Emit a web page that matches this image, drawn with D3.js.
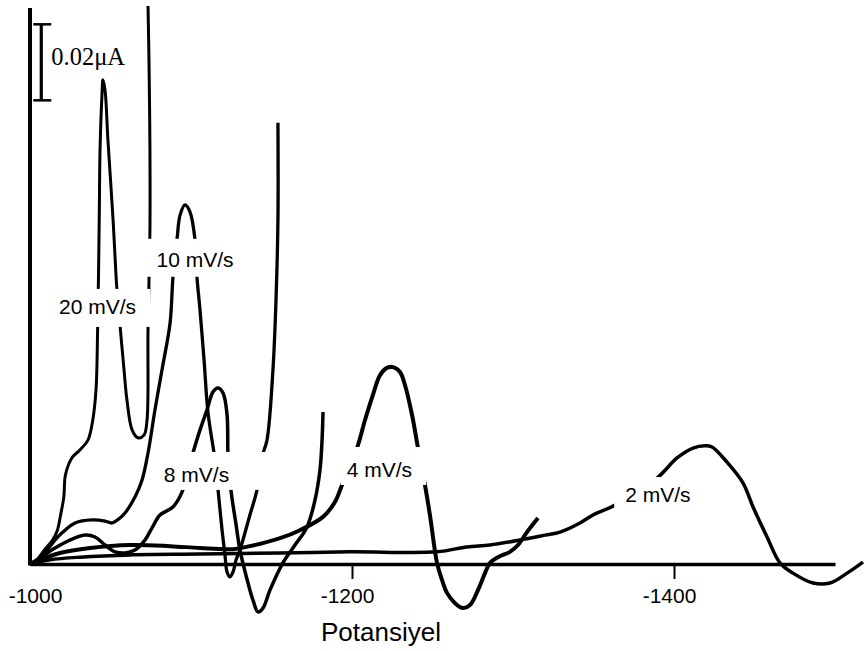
<!DOCTYPE html>
<html>
<head>
<meta charset="utf-8">
<script src="https://cdn.jsdelivr.net/npm/d3@7"></script>
<style>
  body { margin: 0; background: #fff; }
  svg { display: block; }
</style>
</head>
<body>
<div id="viz"></div>
<script>
// potential in mV, current in nA
var scanRates = ["20 mV/s", "10 mV/s", "8 mV/s", "4 mV/s", "2 mV/s"];

var potential20 = [-1000,-1003,-1009,-1014,-1017,-1019,-1021,-1022,-1026,-1031,-1036,-1039,-1041,-1042,-1043,-1043.5,-1044.7,-1045.3,-1046.6,-1048.4,-1051.6,-1054,-1056,-1058.4,-1060.2,-1063.4,-1067.1,-1070.8,-1072.7,-1073.3,-1074.5,-1074.5,-1073.9,-1073.3];
var current20 = [0,0.5,3.7,6.3,8.9,12.9,17.6,23.4,27.9,30.0,32.6,37.9,45.8,61.6,90.5,108.9,123.4,127.4,124.7,111.6,90.5,72.1,62.4,51.1,43.2,35.3,33.2,33.9,37.9,61.6,87.9,108.9,132.6,146.8];

var potential10 = [-1000,-1003.1,-1009.3,-1015.5,-1019.9,-1028,-1038.5,-1046.6,-1050.9,-1055.9,-1059,-1065.2,-1069.6,-1073.3,-1077.6,-1082,-1087,-1088.8,-1091.3,-1093.2,-1096.3,-1099.4,-1102.5,-1103.7,-1105.6,-1108.1,-1110.6,-1114.9,-1116.8,-1119.3,-1121.1,-1122.4,-1124.2,-1126.1,-1128,-1130.4,-1136.6,-1141,-1144.1,-1147.2,-1150.9,-1152.8,-1154,-1154];
var current10 = [0,0.5,2.9,6.3,8.2,10.8,11.6,11.3,10.8,12.1,13.4,17.6,22.1,29.2,40.5,51.1,63.4,75.5,85.3,91.8,94.5,92.6,85.3,75.5,66.8,53.7,39.7,27.4,19.5,8.9,2.4,-2.1,-3.4,-2.1,1.1,3.7,12.9,19.5,28.2,32.6,51.1,69.5,90.5,116.1];

var potential8 = [-1000,-1006.2,-1015.5,-1024.8,-1034.2,-1040.4,-1046.6,-1052.8,-1059,-1065.2,-1071.4,-1075.8,-1080.7,-1088.8,-1094.4,-1101.2,-1105.6,-1109.9,-1113.7,-1116.8,-1119.9,-1122.4,-1123,-1124.8,-1128,-1130.4,-1135.4,-1138.5,-1141.6,-1144.7,-1149.1,-1157.1,-1164.6,-1172,-1177,-1180.1,-1181.4,-1182];
var current8 = [0,1.6,4.2,6.3,7.6,7.1,5.0,3.2,2.9,3.7,6.3,9.5,12.9,15.0,18.9,29.2,35.3,40.5,45.3,46.3,45.0,39.2,28.7,19.5,10.3,3.7,-5.0,-9.5,-12.6,-11.6,-6.8,0.3,5.0,9.7,16.8,24.7,32.6,40.0];

var potential4 = [-1000,-1006.2,-1018.6,-1037.3,-1062.1,-1087,-1105.6,-1126.1,-1136.6,-1155.3,-1167.7,-1182,-1189.4,-1193.8,-1203.1,-1208.1,-1213,-1217.4,-1221.7,-1225.5,-1229.8,-1232.9,-1237.3,-1241,-1245.3,-1248.4,-1252.8,-1255.9,-1259,-1264,-1268.9,-1273.3,-1278.3,-1282.6,-1285.7,-1290.7,-1298.1,-1303.1,-1308.7,-1315.5];
var current4 = [0,1.1,2.9,4.2,5.0,4.7,4.2,3.9,4.7,6.8,8.9,12.4,16.3,20.8,30.5,37.9,44.5,49.7,51.6,51.8,50.5,47.1,39.2,30.5,20.8,12.9,0.3,-4.2,-7.6,-10.3,-11.6,-10.8,-6.8,-2.4,0.3,1.8,3.2,5.0,8.4,12.1];

var potential2 = [-1000,-1012.4,-1031.1,-1062.1,-1105.6,-1155.3,-1198.8,-1252.8,-1271.4,-1285.7,-1304.3,-1319.9,-1329.2,-1341.6,-1349.7,-1363.4,-1389.4,-1401.9,-1411.8,-1419.3,-1423.6,-1432.9,-1442.9,-1449.1,-1457.8,-1465.8,-1473.9,-1486.3,-1496.9,-1507.5,-1517.4];
var current2 = [0,1.1,1.8,2.4,2.6,2.9,3.2,3.2,4.5,5.0,6.3,7.6,8.4,10.8,12.9,15.5,22.6,27.9,30.5,31.1,30.8,26.8,21.3,15.0,7.1,0.3,-2.4,-5.0,-5.0,-2.4,0.5];

// label anchors (centre, baseline) in data units
var labelPotential = [-1042, -1102.5, -1103.4, -1217, -1390];
var labelCurrent = [65.8, 78.2, 21.6, 22.9, 16.3];

var xTicks = [-1000, -1200, -1400];
var scaleBarSize = 20;    // nA = 0.02 uA
var scaleBarBase = 122;
var scaleBarPotential = -1007;
var axisTop = 146.3;

var w = 864, h = 651;

var series = [
    {E: potential20, I: current20, sw: 3},
    {E: potential10, I: current10, sw: 3.3},
    {E: potential8, I: current8, sw: 3.5},
    {E: potential4, I: current4, sw: 4},
    {E: potential2, I: current2, sw: 3.5}
];

// white boxes behind the labels: [left, right, top, bottom] padding
var labelPad = [[6, 14, 6, 9], [15, 6, 9, 6], [6, 36, 11, 4], [6, 14, 11, 4], [11, 6, 6, 4]];

var svg = d3.select("#viz").append("svg")
    .attr("width", w)
    .attr("height", h)
    .style("background", "#fff");

var x = d3.scaleLinear().domain([-1000, -1500]).range([30, 835]);
var y = d3.scaleLinear().domain([0, 148.4]).range([564, 0]);

var line = d3.line()
    .x(function(d){ return x(d[0]); })
    .y(function(d){ return y(d[1]); })
    .curve(d3.curveCatmullRom.alpha(0.5));

svg.selectAll("path.cv")
    .data(series)
    .enter()
    .append("path")
    .attr("class", "cv")
    .attr("d", function(s){ return line(d3.zip(s.E, s.I)); })
    .attr("fill", "none")
    .attr("stroke", "#000")
    .attr("stroke-width", function(s){ return s.sw; })
    .attr("stroke-linejoin", "round");

// x axis
var xAxis = svg.append("g")
    .attr("transform", "translate(0," + y(0) + ")")
    .call(d3.axisBottom(x)
        .tickValues(xTicks)
        .tickSize(15)
        .tickPadding(9)
        .tickSizeOuter(0)
        .tickFormat(function(d){ return String(d); }));
xAxis.select(".domain").attr("stroke", "#000").attr("stroke-width", 3.5);
xAxis.selectAll(".tick line").attr("stroke", "#000").attr("stroke-width", 2)
    .filter(function(d){ return d === -1000; }).remove();
xAxis.selectAll(".tick text")
    .attr("fill", "#000")
    .attr("x", function(d){ return d === -1000 ? 5 : -5; })
    .style("font-family", "'Liberation Sans', Arial, sans-serif")
    .style("font-size", "21px");

svg.append("text")
    .attr("x", 381)
    .attr("y", 641)
    .attr("text-anchor", "middle")
    .style("font-family", "'Liberation Sans', Arial, sans-serif")
    .style("font-size", "26px")
    .text("Potansiyel");

// y axis
svg.append("line")
    .attr("x1", x(-1000)).attr("x2", x(-1000))
    .attr("y1", y(0) + 1.5).attr("y2", y(axisTop))
    .attr("stroke", "#000")
    .attr("stroke-width", 4);

// scale bar
var sb = svg.append("g");
var sbx = x(scaleBarPotential);
sb.append("line")
    .attr("x1", sbx).attr("x2", sbx)
    .attr("y1", y(scaleBarBase)).attr("y2", y(scaleBarBase + scaleBarSize))
    .attr("stroke", "#000").attr("stroke-width", 3.2);
[scaleBarBase, scaleBarBase + scaleBarSize].forEach(function(v){
    sb.append("line")
        .attr("x1", sbx - 8).attr("x2", sbx + 10)
        .attr("y1", y(v)).attr("y2", y(v))
        .attr("stroke", "#000").attr("stroke-width", 2.5);
});
sb.append("text")
    .attr("x", sbx + 10)
    .attr("y", 65)
    .style("font-family", "'Liberation Serif', 'Times New Roman', serif")
    .style("font-size", "24.5px")
    .text("0.02\u03bcA");

// curve labels on white boxes
scanRates.forEach(function(name, i){
    var g = svg.append("g");
    var t = g.append("text")
        .attr("x", x(labelPotential[i]))
        .attr("y", y(labelCurrent[i]))
        .attr("text-anchor", "middle")
        .style("font-family", "'Liberation Sans', Arial, sans-serif")
        .style("font-size", "21px")
        .text(name);
    var b = t.node().getBBox();
    var p = labelPad[i];
    g.insert("rect", "text")
        .attr("x", b.x - p[0])
        .attr("y", b.y - p[2])
        .attr("width", b.width + p[0] + p[1])
        .attr("height", b.height + p[2] + p[3])
        .attr("fill", "#fff");
});
</script>
</body>
</html>
